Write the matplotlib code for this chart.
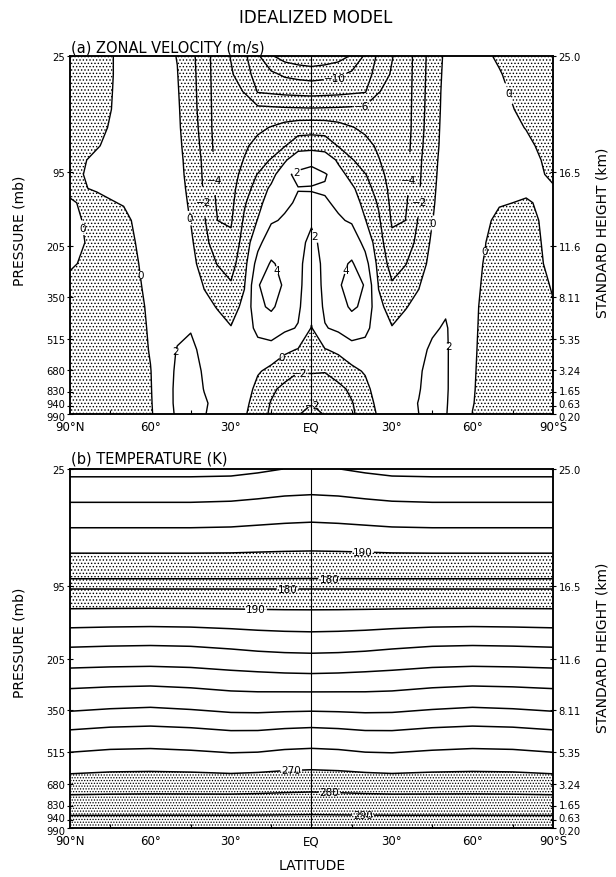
import numpy as np
import matplotlib
matplotlib.use('Agg')
import matplotlib.pyplot as plt
import matplotlib.transforms as mtransforms
from matplotlib.ticker import FixedLocator, NullLocator, MultipleLocator

plt.rcParams['font.family'] = ['DejaVu Sans']
plt.rcParams['hatch.linewidth'] = 0.6
plt.rcParams['hatch.color'] = 'black'
plt.rcParams['contour.negative_linestyle'] = 'solid'

# ---------------- axis tick data ----------------
pressure_ticks = [25, 95, 205, 350, 515, 680, 830, 940, 990]
pressure_labels = ['25', '95', '205', '350', '515', '680', '830', '940', '990']
height_labels = ['25.0', '16.5', '11.6', '8.11', '5.35', '3.24', '1.65', '0.63', '0.20']
lat_ticks = [90, 60, 30, 0, -30, -60, -90]
lat_labels = ['90°N', '60°', '30°', 'EQ', '30°', '60°', '90°S']

# ---------------- (a) zonal velocity (m/s) ----------------
u_lat = [90, 80, 70, 60, 50, 45, 40, 35, 30, 25, 20, 15, 10, 5, 0,
         -5, -10, -15, -20, -25, -30, -35, -40, -45, -50, -60, -70, -80, -90]
u_pres = [25, 36, 46.5, 57, 68, 79, 87.5, 98, 119, 140.5, 167, 200, 256, 317,
          390, 474, 573, 687, 808, 917, 990]
# one vertical profile (top -> surface) per latitude
u_profiles = [
    [-1.2, -1.2, -1.1, -1.0, -0.9, -0.7, -0.5, -0.4, -0.2, 0.1, 0.4, 0.5, 0.15, -0.3, -0.6, -0.8, -0.9, -1.0, -1.0, -0.9, -0.7],
    [-0.8, -0.8, -0.7, -0.6, -0.4, -0.1, 0.3, 0.4, 0.1, -0.3, -0.5, -0.4, -0.4, -0.6, -0.8, -1.0, -1.1, -1.1, -1.1, -1.0, -0.8],
    [0.5, 0.5, 0.5, 0.5, 0.6, 0.7, 0.8, 0.8, 0.6, 0.1, -0.4, -0.7, -0.9, -1.0, -1.1, -1.2, -1.2, -1.2, -1.2, -1.1, -0.9],
    [0.9, 1.0, 1.0, 1.1, 1.2, 1.2, 1.3, 1.3, 1.2, 1.1, 1.0, 0.9, 0.7, 0.5, 0.3, 0.2, 0.1, -0.05, -0.1, -0.15, -0.2],
    [-0.05, 0.05, 0.15, 0.25, 0.3, 0.4, 0.45, 0.5, 0.55, 0.6, 0.7, 0.8, 0.9, 1.1, 1.3, 1.6, 2.1, 2.3, 2.4, 2.4, 2.3],
    [-1.4, -1.3, -1.25, -1.2, -1.0, -0.8, -0.6, -0.5, -0.35, -0.2, -0.05, 0.3, 0.6, 1.0, 1.5, 1.9, 2.4, 2.7, 2.8, 2.7, 2.5],
    [-3.2, -3.1, -3.0, -2.9, -2.8, -2.6, -2.4, -2.3, -2.2, -2.1, -1.8, -1.3, -0.8, -0.1, 0.5, 1.1, 1.5, 1.8, 1.95, 2.2, 2.1],
    [-4.9, -4.9, -4.9, -4.9, -4.9, -4.8, -4.7, -4.6, -4.5, -4.3, -4.0, -3.3, -2.1, -0.9, -0.1, 0.6, 1.0, 1.2, 1.4, 1.5, 1.4],
    [-6.1, -5.8, -5.6, -5.4, -5.3, -5.2, -5.0, -4.9, -4.7, -4.5, -4.2, -3.6, -2.8, -1.8, -0.8, 0.1, 0.7, 0.9, 1.0, 1.0, 0.9],
    [-7.6, -7.0, -6.05, -5.3, -4.8, -4.3, -3.9, -3.3, -2.7, -2.2, -1.7, -1.1, -0.6, -0.1, 0.5, 1.2, 1.6, 1.4, 1.0, 0.6, 0.3],
    [-9.7, -9.0, -8.1, -5.5, -4.4, -3.4, -2.6, -1.9, -1.3, -0.7, 0.1, 1.5, 2.8, 3.9, 3.6, 2.4, 1.3, 0.2, -0.6, -1.1, -1.4],
    [-11.8, -9.6, -8.3, -5.6, -3.9, -2.8, -1.9, -0.8, 0.4, 1.2, 1.8, 3.1, 4.2, 4.7, 4.3, 2.9, 1.2, -0.5, -1.7, -2.1, -2.2],
    [-12.8, -10.3, -8.5, -5.7, -3.3, -2.1, -0.3, 1.6, 1.5, 1.7, 2.2, 2.9, 3.5, 3.8, 3.2, 2.3, 0.4, -1.3, -2.4, -2.6, -2.5],
    [-13.3, -10.6, -8.6, -5.75, -2.9, -0.9, 1.4, 2.4, 1.95, 2.2, 2.5, 2.5, 2.4, 2.4, 2.3, 1.9, -0.1, -1.95, -2.5, -2.4, -2.1],
    [-13.6, -10.8, -8.7, -5.8, -2.8, -0.8, 1.7, 2.5, 1.9, 2.35, 2.2, 1.6, 1.2, 1.0, 0.6, -0.1, -1.1, -1.9, -2.6, -2.1, -1.5],
    [-13.3, -10.6, -8.6, -5.75, -2.9, -0.9, 1.2, 2.2, 1.8, 2.2, 2.5, 2.5, 2.4, 2.4, 2.3, 1.9, -0.1, -1.95, -2.5, -2.4, -2.1],
    [-12.8, -10.3, -8.5, -5.7, -3.3, -2.1, -0.3, 0.9, 1.3, 1.7, 2.2, 2.9, 3.5, 3.8, 3.2, 2.3, 0.4, -1.3, -2.4, -2.6, -2.5],
    [-11.8, -9.6, -8.3, -5.6, -3.9, -2.8, -1.9, -0.8, 0.4, 1.2, 1.8, 3.1, 4.2, 4.7, 4.3, 2.9, 1.2, -0.5, -1.7, -2.1, -2.2],
    [-9.7, -9.0, -8.1, -5.5, -4.4, -3.4, -2.6, -1.9, -1.3, -0.7, 0.1, 1.5, 2.8, 3.9, 3.6, 2.4, 1.3, 0.2, -0.6, -1.1, -1.4],
    [-7.6, -7.0, -6.05, -5.3, -4.8, -4.3, -3.9, -3.3, -2.7, -2.2, -1.7, -1.1, -0.6, -0.1, 0.5, 1.2, 1.6, 1.4, 1.0, 0.6, 0.3],
    [-6.1, -5.8, -5.6, -5.4, -5.3, -5.2, -5.0, -4.9, -4.7, -4.5, -4.2, -3.6, -2.8, -1.8, -0.8, 0.1, 0.7, 0.9, 1.0, 1.0, 0.9],
    [-4.9, -4.9, -4.9, -4.9, -4.9, -4.8, -4.7, -4.6, -4.5, -4.3, -4.0, -3.3, -2.1, -0.9, -0.1, 0.6, 1.0, 1.2, 1.4, 1.5, 1.4],
    [-3.2, -3.1, -3.0, -2.9, -2.8, -2.6, -2.4, -2.3, -2.2, -2.1, -1.8, -1.3, -0.8, -0.1, 0.5, 1.1, 1.5, 1.8, 1.9, 2.05, 2.0],
    [-1.0, -0.95, -0.9, -0.85, -0.75, -0.65, -0.5, -0.4, -0.3, -0.2, -0.05, 0.3, 0.6, 1.0, 1.4, 1.8, 2.3, 2.6, 2.7, 2.6, 2.4],
    [0.3, 0.4, 0.5, 0.55, 0.6, 0.65, 0.7, 0.75, 0.8, 0.85, 0.9, 1.0, 1.2, 1.4, 1.8, 2.15, 2.2, 2.2, 2.2, 2.15, 2.1],
    [0.6, 0.7, 0.8, 0.9, 1.0, 1.0, 1.0, 1.0, 0.9, 0.8, 0.7, 0.6, 0.5, 0.4, 0.3, 0.25, 0.2, 0.15, 0.1, 0.05, -0.02],
    [-0.2, 0.1, 0.3, 0.5, 0.6, 0.7, 0.7, 0.6, 0.4, 0.1, -0.3, -0.6, -0.8, -0.9, -1.0, -1.0, -1.0, -1.0, -0.9, -0.8, -0.7],
    [-0.9, -0.8, -0.6, -0.4, -0.05, 0.3, 0.5, 0.45, 0.2, -0.1, -0.4, -0.7, -0.9, -1.0, -1.1, -1.1, -1.1, -1.0, -1.0, -0.9, -0.8],
    [-1.3, -1.2, -1.1, -1.0, -0.8, -0.6, -0.4, -0.2, 0.1, 0.3, 0.45, 0.55, 0.5, 0.15, -0.15, -0.4, -0.7, -0.9, -1.0, -0.9, -0.8],
]
u_levels = [-12, -10, -8, -6, -4, -2, 0, 2, 4]
u_label_pos = [(85.3, 178), (62.5, 287), (45.5, 164), (40.4, 139.5), (36.7, 106),
               (5.5, 98), (-8.8, 36.4), (-18.6, 54), (-36.2, 106), (-40.7, 139.5),
               (-44.3, 168.5), (-0.9, 193), (11.6, 272), (-11.9, 272), (11.6, 607),
               (4.3, 697), (-3.1, 923), (50.4, 580), (-51, 554), (-63.5, 220),
               (-73.8, 44.6)]

# ---------------- (b) temperature (K) ----------------
t_lat = [90, 75, 60, 45, 30, 20, 10, 0, -10, -20, -30, -45, -60, -75, -90]
t_pres = [25, 37.5, 52.5, 68, 83, 94, 115, 144, 172, 202, 258, 319, 389, 465,
          565, 690, 817, 990]
t_rows = [
    [223, 223, 223, 223, 222.8, 221.5, 219.9, 219.6, 219.9, 221.5, 222.8, 223, 223, 223, 223],
    [215, 215, 215, 215, 214.5, 213.5, 212.3, 211.8, 212.3, 213.5, 214.5, 215, 215, 215, 215],
    [205, 205, 205, 205, 204.6, 203.8, 203, 202.5, 203, 203.8, 204.6, 205, 205, 205, 205],
    [195, 195, 195, 195, 194.8, 194.3, 193.9, 193.7, 193.9, 194.3, 194.8, 195, 195, 195, 195],
    [185, 185, 185, 185, 185, 184.9, 184.8, 184.7, 184.8, 184.9, 185, 185, 185, 185, 185],
    [178, 178, 178, 178, 178, 178, 178, 178, 178, 178, 178, 178, 178, 178, 178],
    [185, 185, 185, 185, 185, 185, 185, 185, 185, 185, 185, 185, 185, 185, 185],
    [195, 195.3, 195.5, 195.3, 194.8, 194.4, 194.1, 194.0, 194.1, 194.4, 194.8, 195.3, 195.5, 195.3, 195],
    [205, 205.6, 205.9, 205.5, 204.3, 203.3, 202.7, 202.4, 202.7, 203.3, 204.3, 205.5, 205.9, 205.6, 205],
    [215, 215.5, 215.8, 215.4, 214, 212.9, 212.2, 211.9, 212.2, 212.9, 214, 215.4, 215.8, 215.5, 215],
    [225, 225.7, 226, 225.2, 223.8, 223.2, 222.6, 222.3, 222.6, 223.2, 223.8, 225.2, 226, 225.7, 225],
    [235, 236, 236.6, 235.6, 234, 233.7, 234, 234.1, 234, 233.7, 234, 235.6, 236.6, 236, 235],
    [245, 246.5, 247.1, 246.3, 244.6, 244.5, 245.4, 246, 245.4, 244.5, 244.6, 246.3, 247.1, 246.5, 245],
    [255, 256.2, 256.6, 255.8, 254.6, 254.8, 256, 256.5, 256, 254.8, 254.6, 255.8, 256.6, 256.2, 255],
    [265, 266, 266.2, 265.8, 264.8, 265.3, 266.2, 266.6, 266.2, 265.3, 264.8, 265.8, 266.2, 266, 265],
    [275, 275.5, 275.7, 275.6, 275.5, 275.9, 276.5, 276.9, 276.5, 275.9, 275.5, 275.6, 275.7, 275.5, 275],
    [285, 285.1, 285.2, 285.2, 285.2, 285.3, 285.5, 285.7, 285.5, 285.3, 285.2, 285.2, 285.2, 285.1, 285],
    [295, 295, 295, 295, 295, 295, 295, 295, 295, 295, 295, 295, 295, 295, 295],
]
t_levels = [180, 190, 200, 210, 220, 230, 240, 250, 260, 270, 280, 290]
t_label_pos = [(-19.2, 75.4), (-6.6, 91), (8.9, 100), (20.7, 130),
               (7.4, 628), (-6.6, 752), (-19.2, 904)]

# ---------------- vertical scale (axis layout) ----------------
_P = np.array([0.0] + pressure_ticks + [2000.0])
_POS = np.array([-0.116, 0.0, 0.325, 0.53, 0.672, 0.789, 0.877, 0.939, 0.978, 1.0, 1.444])


def fwd(p):
    return np.interp(np.asarray(p, dtype=float), _P, _POS)


def inv(y):
    return np.interp(np.asarray(y, dtype=float), _POS, _P)


def fmt(v):
    return ('\u2212' if v < 0 else '') + '%d' % abs(round(v))


fig = plt.figure(figsize=(6.16, 8.78), dpi=100)
ax_a = fig.add_axes([0.1136, 0.5273, 0.7841, 0.4077])
ax_b = fig.add_axes([0.1136, 0.0558, 0.7841, 0.4089])


def nudge(label, dy_px):
    label.set_transform(label.get_transform() +
                        mtransforms.ScaledTranslation(0, dy_px / 100.0, fig.dpi_scale_trans))


def style_axes(ax):
    ax.set_xlim(90, -90)
    ax.set_yscale('function', functions=(fwd, inv))
    ax.set_ylim(990, 25)
    ax.yaxis.set_major_locator(FixedLocator(pressure_ticks))
    ax.set_yticklabels(pressure_labels)
    ax.yaxis.set_minor_locator(NullLocator())
    ax.set_xticks(lat_ticks)
    ax.set_xticklabels(lat_labels)
    ax.xaxis.set_minor_locator(MultipleLocator(15))
    ax.tick_params(axis='x', which='major', length=0, pad=4.5, labelsize=8.5)
    ax.tick_params(axis='x', which='minor', direction='in', length=3, width=0.8)
    ax.tick_params(axis='y', which='major', direction='inout', length=5, width=0.8,
                   pad=1, labelsize=7.2)
    for s in ax.spines.values():
        s.set_linewidth(1.1)
    ax.axvline(0, color='black', lw=0.8, zorder=3)
    ax2 = ax.twinx()
    ax2.set_yscale('function', functions=(fwd, inv))
    ax2.set_ylim(990, 25)
    ax2.yaxis.set_major_locator(FixedLocator(pressure_ticks))
    ax2.set_yticklabels(height_labels)
    ax2.yaxis.set_minor_locator(NullLocator())
    ax2.tick_params(axis='y', direction='inout', length=5, width=0.8, pad=1.5,
                    labelsize=7.2)
    for s in ax2.spines.values():
        s.set_linewidth(1.1)
    for a in (ax, ax2):
        labs = a.get_yticklabels()
        nudge(labs[-3], 2.0)
        nudge(labs[-2], 3.5)
        nudge(labs[-1], -2.0)
    return ax2


# panel (a)
U = np.array(u_profiles, dtype=float).T
LA, PA = np.meshgrid(u_lat, u_pres)
ax_a.contourf(LA, PA, U, levels=[-50, 0], colors='none', hatches=['.....'])
cs_a = ax_a.contour(LA, PA, U, levels=u_levels, colors='black', linewidths=1.0)
txt_a = ax_a.clabel(cs_a, levels=u_levels, manual=u_label_pos, fmt=fmt, fontsize=7.5,
                    inline=True, inline_spacing=1)
for t in txt_a:
    t.set_rotation(0)
style_axes(ax_a)

# panel (b)
T = np.array(t_rows, dtype=float)
LB, PB = np.meshgrid(t_lat, t_pres)
ax_b.contourf(LB, PB, T, levels=[170, 190], colors='none', hatches=['.....'])
ax_b.contourf(LB, PB, T, levels=[270, 310], colors='none', hatches=['......'])
cs_b = ax_b.contour(LB, PB, T, levels=t_levels, colors='black', linewidths=1.1)
txt_b = ax_b.clabel(cs_b, levels=t_levels, manual=t_label_pos, fmt=fmt, fontsize=7.5,
                    inline=True, inline_spacing=1)
for t in txt_b:
    t.set_rotation(0)
style_axes(ax_b)

# texts
fig.text(0.513, 0.9795, 'IDEALIZED MODEL', ha='center', va='center', fontsize=12)
fig.text(0.115, 0.9455, '(a) ZONAL VELOCITY (m/s)', ha='left', va='center', fontsize=10.5)
fig.text(0.115, 0.4775, '(b) TEMPERATURE (K)', ha='left', va='center', fontsize=10.5)
fig.text(0.032, 0.737, 'PRESSURE (mb)', rotation=90, ha='center', va='center', fontsize=10)
fig.text(0.032, 0.268, 'PRESSURE (mb)', rotation=90, ha='center', va='center', fontsize=10)
fig.text(0.978, 0.735, 'STANDARD HEIGHT (km)', rotation=90, ha='center', va='center', fontsize=10)
fig.text(0.978, 0.262, 'STANDARD HEIGHT (km)', rotation=90, ha='center', va='center', fontsize=10)
fig.text(0.507, 0.014, 'LATITUDE', ha='center', va='center', fontsize=10)

fig.savefig('out.png', dpi=100)
